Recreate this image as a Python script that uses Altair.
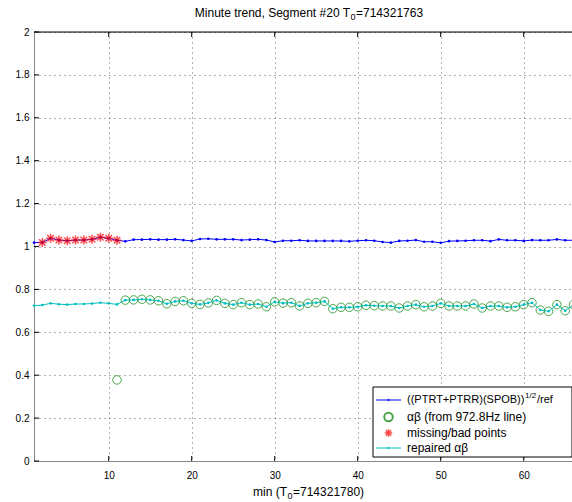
import altair as alt
import pandas as pd

# ---------------- data ----------------
minutes = list(range(1, 67))

ratio_values = [
    1.018, 1.019, 1.038, 1.030, 1.027, 1.030, 1.030, 1.0335, 1.043, 1.038,
    1.029, 1.024, 1.032, 1.032, 1.0335, 1.032, 1.032, 1.0335, 1.030, 1.026,
    1.035, 1.036, 1.0335, 1.0335, 1.0335, 1.030, 1.032, 1.0335, 1.030, 1.021,
    1.027, 1.027, 1.029, 1.026, 1.026, 1.026, 1.026, 1.026, 1.024, 1.027,
    1.029, 1.027, 1.021, 1.018, 1.026, 1.027, 1.030, 1.022, 1.022, 1.017,
    1.025, 1.026, 1.027, 1.029, 1.029, 1.025, 1.033, 1.029, 1.029, 1.026,
    1.030, 1.029, 1.029, 1.033, 1.029, 1.029,
]

bad_minutes = list(range(2, 12))

ab_minutes = list(range(11, 67))
ab_values = [
    0.378,
    0.750, 0.751, 0.754, 0.751, 0.747, 0.733, 0.744, 0.747, 0.735, 0.730,
    0.737, 0.749, 0.735, 0.729, 0.738, 0.729, 0.732, 0.719, 0.742, 0.736,
    0.738, 0.723, 0.735, 0.738, 0.744, 0.710, 0.7165, 0.7165, 0.719, 0.726,
    0.724, 0.7226, 0.7226, 0.7133, 0.7226, 0.729, 0.719, 0.7226, 0.735, 0.7226,
    0.7226, 0.7226, 0.732, 0.7133, 0.7226, 0.7226, 0.7165, 0.719, 0.729, 0.738,
    0.704, 0.698, 0.729, 0.7007, 0.729,
]

repaired_head = [0.724, 0.727, 0.735, 0.731, 0.729, 0.732, 0.732, 0.734, 0.738, 0.735, 0.730]
repaired_values = repaired_head + ab_values[1:]

x_ticks = [10, 20, 30, 40, 50, 60]
y_ticks = [0, 0.2, 0.4, 0.6, 0.8, 1.0, 1.2, 1.4, 1.6, 1.8, 2.0]

legend_labels = ["((PTRT+PTRR)(SPOB))", "αβ (from 972.8Hz line)", "missing/bad points", "repaired αβ"]
title_parts = ["Minute trend, Segment #20 T", "0", "=714321763"]
xlabel_parts = ["min (T", "0", "=714321780)"]

# ---------------- tables ----------------
df_ratio = pd.DataFrame({"minute": minutes, "value": ratio_values})
df_bad = pd.DataFrame({"minute": bad_minutes,
                       "value": [ratio_values[m - 1] for m in bad_minutes]})
df_ab = pd.DataFrame({"minute": ab_minutes, "value": ab_values})
df_rep = pd.DataFrame({"minute": minutes, "value": repaired_values})
df_xt = pd.DataFrame({"minute": x_ticks})
df_yt = pd.DataFrame({"value": y_ticks})

W, H = 538, 429
FONT = "Liberation Sans"
BLUE, GREEN, RED, CYAN = "#0000ff", "#008000", "#ff0000", "#00bfbf"
STAR = "M0,-1L0,1M-1,0L1,0M-0.72,-0.72L0.72,0.72M-0.72,0.72L0.72,-0.72"

xscale = alt.Scale(domain=[1, 65.82], nice=False, zero=False)
yscale = alt.Scale(domain=[0, 2], nice=False, zero=False)

grid_style = dict(grid=True, gridColor="#555555", gridDash=[1, 4], gridWidth=1, gridOpacity=0.9)

X = alt.X("minute:Q", scale=xscale,
          axis=alt.Axis(values=x_ticks, title=None, ticks=False, tickSize=0,
                        labelPadding=9, domain=True, **grid_style))
Y = alt.Y("value:Q", scale=yscale,
          axis=alt.Axis(values=y_ticks, title=None, ticks=False, tickSize=0,
                        labelPadding=5, domain=True, **grid_style,
                        labelExpr="datum.value == 0 ? '0' : datum.value == 1 ? '1' : datum.value == 2 ? '2' : format(datum.value, '.1f')"))

blue = alt.Chart(df_ratio).mark_line(
    color=BLUE, strokeWidth=1,
    point=alt.OverlayMarkDef(filled=True, size=7, color=BLUE)
).encode(x=X, y=Y)

green = alt.Chart(df_ab).mark_point(
    shape="circle", filled=False, color=GREEN, size=72, strokeWidth=1
).encode(x=X, y=Y)

red = alt.Chart(df_bad).mark_point(
    shape=STAR, filled=False, color=RED, size=81, strokeWidth=1.5
).encode(x=X, y=Y)

cyan = alt.Chart(df_rep).mark_line(
    color=CYAN, strokeWidth=1,
    point=alt.OverlayMarkDef(filled=True, size=7, color=CYAN)
).encode(x=X, y=Y)

# inward ticks (box style)
xt_bottom = alt.Chart(df_xt).mark_rule(color="black").encode(
    x=X, y=alt.value(H), y2=alt.value(H - 5))
xt_top = alt.Chart(df_xt).mark_rule(color="black").encode(
    x=X, y=alt.value(0), y2=alt.value(5))
yt_left = alt.Chart(df_yt).mark_rule(color="black").encode(
    y=Y, x=alt.value(0), x2=alt.value(5))

one = pd.DataFrame({"k": [0]})
top_border = alt.Chart(one).mark_rule(color="black").encode(
    x=alt.value(0), x2=alt.value(W), y=alt.value(0))


def txt(s, x, y, size=11, align="left"):
    return alt.Chart(pd.DataFrame({"t": [s]})).mark_text(
        font=FONT, fontSize=size, color="black", align=align, baseline="middle"
    ).encode(text="t:N", x=alt.value(x), y=alt.value(y))


# legend (box + samples + labels)
LX0, LX1, LY0, LY1 = 339, 538, 355, 425
rows = [368, 385, 401, 416]
legend_box = alt.Chart(one).mark_rect(fill="white", stroke="black", strokeWidth=1).encode(
    x=alt.value(LX0), x2=alt.value(LX1), y=alt.value(LY0), y2=alt.value(LY1))
leg_blue_line = alt.Chart(one).mark_rule(color=BLUE, strokeWidth=1).encode(
    x=alt.value(342), x2=alt.value(367), y=alt.value(rows[0]))
leg_blue_pt = alt.Chart(one).mark_point(filled=True, color=BLUE, size=7).encode(
    x=alt.value(354.5), y=alt.value(rows[0]))
leg_green = alt.Chart(one).mark_point(shape="circle", filled=False, color=GREEN, size=72).encode(
    x=alt.value(354.5), y=alt.value(rows[1]))
leg_red = alt.Chart(one).mark_point(shape=STAR, filled=False, color=RED, size=56, strokeWidth=1.5).encode(
    x=alt.value(354.5), y=alt.value(rows[2]))
leg_cyan_line = alt.Chart(one).mark_rule(color=CYAN, strokeWidth=1).encode(
    x=alt.value(342), x2=alt.value(367), y=alt.value(rows[3]))
leg_cyan_pt = alt.Chart(one).mark_point(filled=True, color=CYAN, size=7).encode(
    x=alt.value(354.5), y=alt.value(rows[3]))

TX = 373
leg_texts = [
    txt(legend_labels[0], TX, rows[0]),
    txt("1/2", TX + 118, rows[0] - 4, size=8),
    txt("/ref", TX + 130, rows[0]),
    txt(legend_labels[1], TX, rows[1], size=12),
    txt(legend_labels[2], TX, rows[2], size=12),
    txt(legend_labels[3], TX, rows[3], size=12),
]

# title and x label with subscripts (anchored around the subscript)
TS = 316
title_layers = [
    txt(title_parts[0], TS, -19, size=12, align="right"),
    txt(title_parts[1], TS + 0.5, -15, size=9),
    txt(title_parts[2], TS + 6, -19, size=12),
]
XS = 253
xlabel_layers = [
    txt(xlabel_parts[0], XS, 460, size=12, align="right"),
    txt(xlabel_parts[1], XS + 0.5, 464, size=9),
    txt(xlabel_parts[2], XS + 6, 460, size=12),
]

chart = alt.layer(
    blue, green, red, cyan,
    xt_bottom, xt_top, yt_left, top_border,
    legend_box, leg_blue_line, leg_blue_pt, leg_green, leg_red, leg_cyan_line, leg_cyan_pt,
    *leg_texts, *title_layers, *xlabel_layers,
).properties(
    width=W, height=H,
    autosize=alt.AutoSizeParams(type="none"),
    padding={"left": 34, "top": 32, "right": 0, "bottom": 41},
).configure_view(
    stroke=None
).configure_axis(
    labelFont=FONT, labelFontSize=12, labelColor="black",
    domainColor="black", domainWidth=1,
).configure(background="white")

chart.save("out.html", embed_options={"renderer": "svg", "actions": False})
